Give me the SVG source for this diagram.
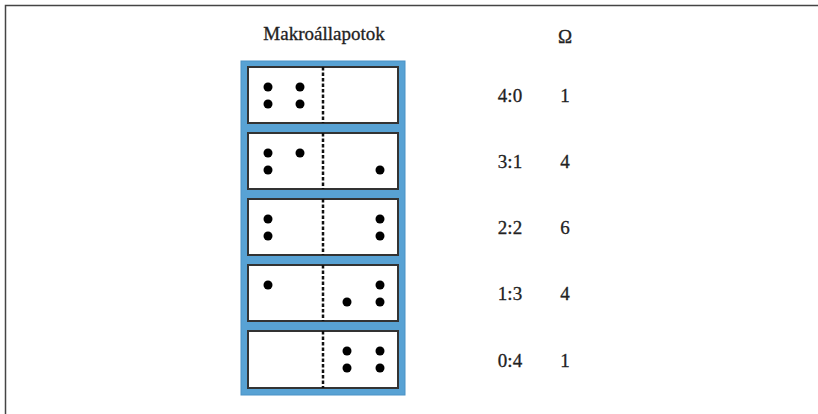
<svg xmlns="http://www.w3.org/2000/svg" width="818" height="414" viewBox="0 0 818 414">
<style>
.t{font-family:"Liberation Serif","Times New Roman",serif;fill:#222;stroke:#222;stroke-width:0.3;font-size:19px;text-anchor:middle;}
.box{fill:#fff;stroke:#333;stroke-width:2;}
.dash{stroke:#111;stroke-width:2.5;stroke-dasharray:3.5 2;fill:none;}
.dot{fill:#000;}
</style>
<rect width="818" height="414" fill="#fff"/>
<path d="M5.5 414 V5.5 H818" fill="none" stroke="#444" stroke-width="1.5"/>
<text class="t" x="324" y="40">Makroállapotok</text>
<text class="t" x="565" y="43">Ω</text>
<rect id="panel" x="241" y="61" width="164" height="334" fill="#58a2d4" stroke="#4a92c6" stroke-width="1"/>
<g id="state-4-0">
<rect class="box" x="248" y="67" width="150" height="56"/>
<line class="dash" x1="323" y1="67" x2="323" y2="123"/>
<circle class="dot" cx="268" cy="87" r="4.5"/><circle class="dot" cx="300" cy="87" r="4.5"/>
<circle class="dot" cx="268" cy="104" r="4.5"/><circle class="dot" cx="300" cy="104" r="4.5"/>
<text class="t" x="510" y="102">4:0</text>
<text class="t" x="565" y="102">1</text>
</g>
<g id="state-3-1">
<rect class="box" x="248" y="133" width="150" height="56"/>
<line class="dash" x1="323" y1="133" x2="323" y2="189"/>
<circle class="dot" cx="268" cy="153" r="4.5"/><circle class="dot" cx="300" cy="153" r="4.5"/>
<circle class="dot" cx="268" cy="170" r="4.5"/><circle class="dot" cx="380" cy="170" r="4.5"/>
<text class="t" x="510" y="168">3:1</text>
<text class="t" x="565" y="168">4</text>
</g>
<g id="state-2-2">
<rect class="box" x="248" y="199" width="150" height="56"/>
<line class="dash" x1="323" y1="199" x2="323" y2="255"/>
<circle class="dot" cx="268" cy="219" r="4.5"/><circle class="dot" cx="268" cy="236" r="4.5"/>
<circle class="dot" cx="380" cy="219" r="4.5"/><circle class="dot" cx="380" cy="236" r="4.5"/>
<text class="t" x="510" y="234">2:2</text>
<text class="t" x="565" y="234">6</text>
</g>
<g id="state-1-3">
<rect class="box" x="248" y="265" width="150" height="56"/>
<line class="dash" x1="323" y1="265" x2="323" y2="321"/>
<circle class="dot" cx="268" cy="285" r="4.5"/>
<circle class="dot" cx="380" cy="285" r="4.5"/><circle class="dot" cx="347" cy="302" r="4.5"/><circle class="dot" cx="380" cy="302" r="4.5"/>
<text class="t" x="510" y="300">1:3</text>
<text class="t" x="565" y="300">4</text>
</g>
<g id="state-0-4">
<rect class="box" x="248" y="331" width="150" height="57"/>
<line class="dash" x1="323" y1="331" x2="323" y2="388"/>
<circle class="dot" cx="347" cy="351" r="4.5"/><circle class="dot" cx="380" cy="351" r="4.5"/>
<circle class="dot" cx="347" cy="368" r="4.5"/><circle class="dot" cx="380" cy="368" r="4.5"/>
<text class="t" x="510" y="367">0:4</text>
<text class="t" x="565" y="367">1</text>
</g>
<g id="connectors"></g>
</svg>
